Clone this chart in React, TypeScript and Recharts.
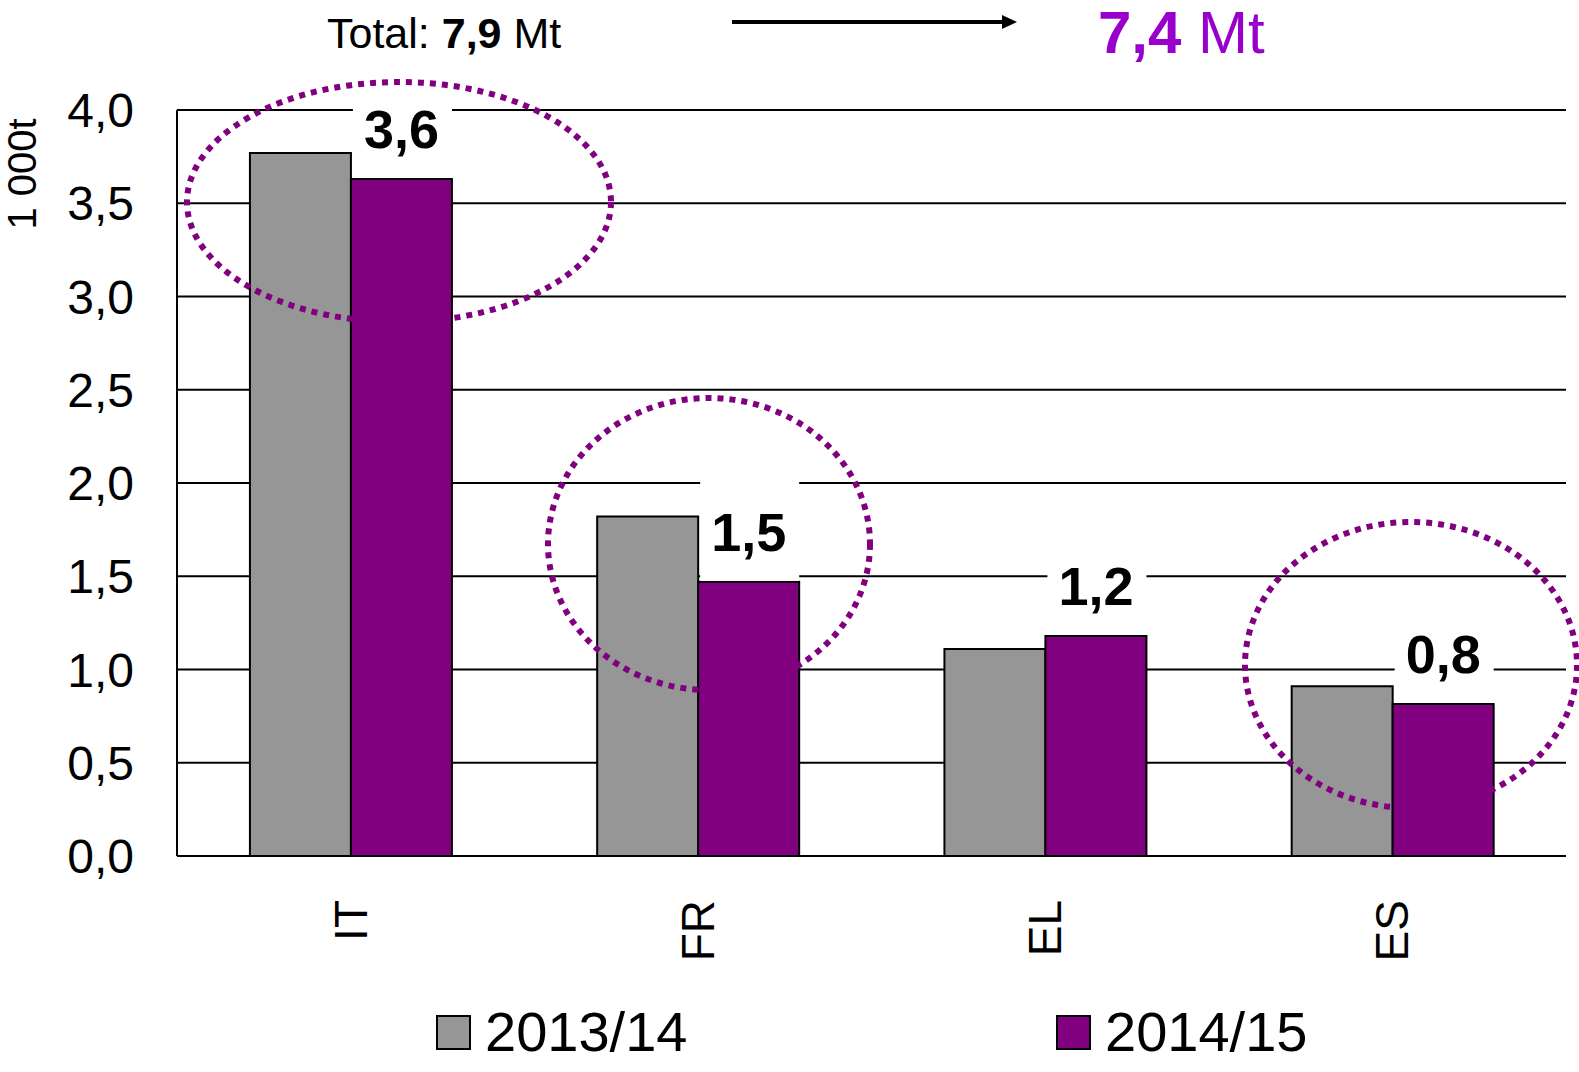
import React from 'react';
import { BarChart, Bar, XAxis, YAxis, CartesianGrid, Legend, LabelList } from 'recharts';

const categories = ['IT', 'FR', 'EL', 'ES'];
const values201314 = [3.77, 1.82, 1.11, 0.91];
const values201415 = [3.63, 1.47, 1.18, 0.815];
const seriesNames = ['2013/14', '2014/15'];
const yTicks = [0, 0.5, 1, 1.5, 2, 2.5, 3, 3.5, 4];
const totalBefore = '7,9';
const totalAfter = '7,4';
const unitLabel = '1 000t';

const data = categories.map((c, i) => ({ name: c, a: values201314[i], b: values201415[i] }));

const FONT = '"Liberation Sans", Arial, sans-serif';
const GRAY = '#969696';
const PURPLE = '#800080';

const fmt = (v: number) => (Math.round(v * 10) / 10).toFixed(1).replace('.', ',');

const XTick = (props: any) => {
  const { x, y, payload } = props;
  const ty = y + 42;
  return (
    <text x={x} y={ty} transform={`rotate(-90, ${x}, ${ty})`} textAnchor="end" dominantBaseline="central"
      fontSize={46} fontFamily={FONT} fill="#000">{payload.value}</text>
  );
};

const ValueLabel = (props: any) => {
  const { x, y, width, value } = props;
  return (
    <g>
      <rect x={x + 2} y={y - 110} width={width - 2} height={109} fill="#fff" />
      <text x={x + width / 2} y={y - 31} textAnchor="middle" fontSize={54} fontWeight="bold"
        fontFamily={FONT} fill="#000">{fmt(value)}</text>
    </g>
  );
};

const Overlay = () => (
  <svg width={1579} height={1072} style={{ position: 'absolute', left: 0, top: 0, pointerEvents: 'none' }}>
    <text x={327} y={48} fontSize={43} fontFamily={FONT} fill="#000">
      Total: <tspan fontWeight="bold">{totalBefore}</tspan> Mt
    </text>
    <line x1={732} y1={22} x2={1004} y2={22} stroke="#000" strokeWidth={4} />
    <polygon points="1017,22 1002,15 1002,29" fill="#000" />
    <text x={1098} y={53} fontSize={60} fontFamily={FONT} fill="#9a00cc">
      <tspan fontWeight="bold">{totalAfter}</tspan> Mt
    </text>
    <g fill="none" stroke={PURPLE} strokeWidth={6} strokeDasharray="6 6">
      <ellipse cx={399} cy={202} rx={212} ry={120} />
      <ellipse cx={709} cy={544} rx={161} ry={146} />
      <ellipse cx={1411} cy={665} rx={166} ry={143} />
    </g>
  </svg>
);

const LegendContent = () => (
  <div style={{ position: 'relative', height: 80, width: 1579, fontFamily: FONT }}>
    {seriesNames.map((n, i) => (
      <div key={n} style={{ position: 'absolute', left: i === 0 ? 436 : 1056, top: 0, height: 80, display: 'flex', alignItems: 'center' }}>
        <div style={{ width: 31, height: 31, background: i === 0 ? GRAY : PURPLE, border: '2px solid #000', marginRight: 14 }} />
        <span style={{ fontSize: 56, color: '#000', lineHeight: '80px' }}>{n}</span>
      </div>
    ))}
  </div>
);

export default function App() {
  return (
    <div style={{ position: 'absolute', left: 0, top: 0, width: 1579, height: 1072, background: '#fff' }}>
      <BarChart width={1579} height={1072} data={data} margin={{ top: 110, right: 13, left: 0, bottom: 0 }}
        barCategoryGap="21%" barGap={0}>
        <CartesianGrid horizontal vertical={false} stroke="#000" strokeWidth={2} />
        <XAxis dataKey="name" height={136} axisLine={{ stroke: '#000', strokeWidth: 2 }} tickLine={false}
          tickSize={0} tick={<XTick />} interval={0} />
        <YAxis width={177} domain={[0, 4]} ticks={yTicks} axisLine={{ stroke: '#000', strokeWidth: 2 }}
          tickLine={false} tickSize={0} tickMargin={43} tickFormatter={(v: number) => v.toFixed(1).replace('.', ',')}
          tick={{ fontSize: 48, fill: '#000', fontFamily: FONT }}
          label={{ value: unitLabel, angle: -90, position: 'insideTopLeft', content: () => (
            <text x={22} y={174} transform="rotate(-90, 22, 174)" textAnchor="middle" dominantBaseline="central"
              fontSize={40} fontFamily={FONT} fill="#000">{unitLabel}</text>
          ) }} />
        <Legend verticalAlign="bottom" align="left" content={<LegendContent />} />
        <Bar dataKey="a" name={seriesNames[0]} fill={GRAY} stroke="#000" strokeWidth={2} isAnimationActive={false} />
        <Bar dataKey="b" name={seriesNames[1]} fill={PURPLE} stroke="#000" strokeWidth={2} isAnimationActive={false}>
          <LabelList dataKey="b" content={<ValueLabel />} />
        </Bar>
      </BarChart>
      <Overlay />
    </div>
  );
}
